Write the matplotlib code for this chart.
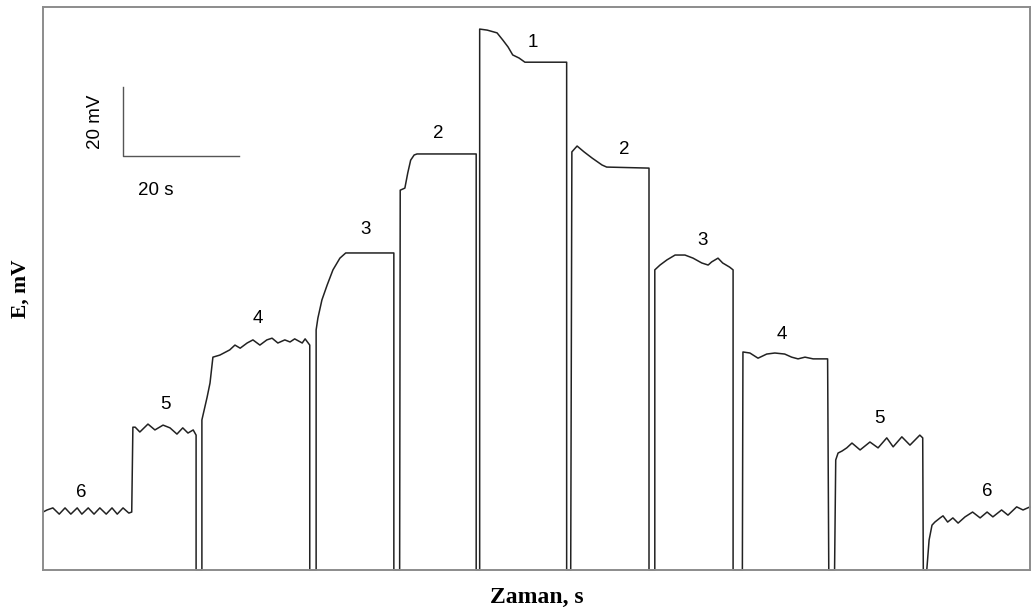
import matplotlib
matplotlib.use("Agg")
import matplotlib.pyplot as plt

# potansiyel-zaman kaydi, her basamak ayri (t: s, E: mV)
t_6a = [0, 0.7, 1.7, 2.8, 3.8, 4.8, 5.9, 6.7, 7.8, 8.8, 9.8, 10.9, 11.9, 12.8, 13.8, 14.8, 15.3]
e_6a = [16.8, 17.4, 18.0, 16.2, 18.0, 16.2, 18.0, 16.2, 18.0, 16.2, 18.0, 16.2, 18.0, 16.2, 18.0, 16.5, 16.8]

t_5a = [15.5, 15.9, 16.7, 18.1, 19.3, 20.7, 21.9, 23.1, 24.1, 25.0, 25.9, 26.4, 26.4]
e_5a = [41.4, 41.4, 40.0, 42.3, 40.6, 42.0, 41.2, 39.4, 41.2, 39.7, 40.6, 39.1, 0]

t_4a = [27.4, 27.4, 28.3, 28.8, 29.3, 30.5, 32.2, 33.1, 34.0, 35.2, 36.2, 37.4, 38.6, 39.5,
        40.5, 41.7, 42.6, 43.4, 44.7, 45.2, 46.0, 46.0]
e_4a = [0, 43.5, 50.1, 54.2, 61.7, 62.3, 63.8, 65.2, 64.3, 65.8, 66.7, 65.2, 66.7, 67.2,
        65.8, 66.7, 66.1, 67.0, 65.8, 67.0, 65.2, 0]

t_3a = [47.1, 47.1, 47.4, 48.1, 49.0, 50.0, 51.2, 52.2, 60.5, 60.5]
e_3a = [0, 69.6, 73.0, 78.3, 82.6, 87.0, 90.4, 91.9, 91.9, 0]

t_2a = [61.5, 61.6, 62.4, 62.9, 63.4, 64.0, 64.5, 74.7, 74.7]
e_2a = [0, 110.1, 110.7, 115.1, 118.8, 120.3, 120.6, 120.6, 0]

t_1 = [75.3, 75.3, 76.6, 78.3, 79.3, 80.2, 81.0, 82.1, 83.1, 84.8, 90.3, 90.3]
e_1 = [0, 156.8, 156.5, 155.7, 153.6, 151.6, 149.3, 148.4, 147.2, 147.2, 147.2, 0]

t_2b = [91.0, 91.2, 92.1, 93.3, 94.7, 96.4, 97.2, 104.5, 104.5]
e_2b = [0, 121.2, 122.9, 121.2, 119.4, 117.4, 116.8, 116.5, 0]

t_3b = [105.5, 105.5, 106.4, 107.6, 109.0, 110.7, 112.1, 113.6, 114.7, 115.3, 116.4,
        117.2, 118.4, 119.0, 119.0]
e_3b = [0, 87.0, 88.4, 89.9, 91.3, 91.3, 90.4, 89.0, 88.4, 89.3, 90.4, 89.0, 87.8, 87.0, 0]

t_4b = [120.6, 120.7, 121.9, 123.3, 124.8, 126.2, 127.9, 129.1, 130.2, 131.4, 132.8,
        134.3, 135.3, 135.5]
e_4b = [0, 63.2, 62.9, 61.4, 62.6, 62.9, 62.6, 61.7, 61.2, 61.7, 61.2, 61.2, 61.2, 0]

t_5b = [136.5, 136.7, 137.1, 137.8, 138.6, 139.5, 140.9, 142.6, 144.0, 145.5, 146.6,
        148.1, 149.5, 151.2, 151.7, 151.8]
e_5b = [0, 31.9, 33.9, 34.5, 35.4, 36.8, 34.8, 37.1, 35.4, 38.3, 35.7, 38.6, 36.2,
        39.1, 38.3, 0]

t_6b = [152.4, 152.8, 153.3, 153.8, 154.7, 155.2, 156.0, 156.9, 157.8, 159.0, 160.3,
        161.6, 162.8, 163.8, 165.3, 166.4, 167.9, 169.0, 170.2]
e_6b = [0, 8.7, 13.0, 13.9, 15.1, 15.7, 13.9, 15.1, 13.6, 15.4, 16.8, 15.1, 16.8,
        15.4, 17.4, 15.9, 18.3, 17.4, 18.3]

# basamak numaralari
label_text = ["6", "5", "4", "3", "2", "1", "2", "3", "4", "5", "6"]
label_t = [6.6, 21.2, 37.1, 55.7, 68.1, 84.5, 100.2, 113.8, 127.4, 144.3, 162.9]
label_e = [22.6, 48.1, 72.8, 98.8, 126.4, 153.0, 122.0, 95.4, 68.4, 43.8, 22.9]

# olcek cubugu
bar_t0, bar_e0 = 13.8, 120.0
bar_dt, bar_de = 20, 20

t_all = t_6a + t_5a + t_4a + t_3a + t_2a + t_1 + t_2b + t_3b + t_4b + t_5b + t_6b
e_all = e_6a + e_5a + e_4a + e_3a + e_2a + e_1 + e_2b + e_3b + e_4b + e_5b + e_6b

fig = plt.figure(figsize=(10.32, 6.09), dpi=100)
ax = fig.add_axes([43 / 1032, 39 / 609, 987 / 1032, 563 / 609])

ax.plot(t_all, e_all, color="#222222", lw=1.1, clip_on=False)

for s, x, y in zip(label_text, label_t, label_e):
    ax.text(x, y, s, ha="center", va="center", fontsize=13.5, family="Liberation Sans")

ax.plot([bar_t0, bar_t0, bar_t0 + bar_dt], [bar_e0 + bar_de, bar_e0, bar_e0],
        color="#555555", lw=1.0)
ax.text(bar_t0 - 4.7, bar_e0 + bar_de / 2, "20 mV", rotation=90, ha="center",
        va="center", fontsize=13.5, family="Liberation Sans")
ax.text(bar_t0 + 5.7, bar_e0 - 10.1, "20 s", ha="center", va="center",
        fontsize=13.5, family="Liberation Sans")

ax.set_xlim(0, 170.2)
ax.set_ylim(0, 163.2)
ax.set_xticks([])
ax.set_yticks([])
for sp in ax.spines.values():
    sp.set_color("#8c8c8c")
    sp.set_linewidth(1.4)

ax.set_xlabel("Zaman, s", family="Liberation Serif", fontweight="bold",
              fontsize=17, labelpad=12)
ax.set_ylabel("E, mV", family="Liberation Serif", fontweight="bold",
              fontsize=15.5, labelpad=9)

fig.savefig("out.png", dpi=100)
